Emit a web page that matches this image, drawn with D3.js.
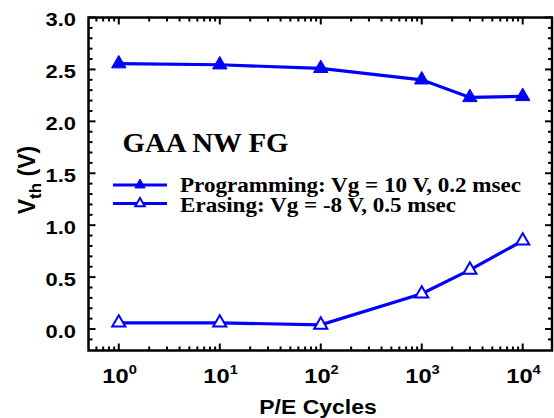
<!DOCTYPE html>
<html><head><meta charset="utf-8">
<script src="https://cdn.jsdelivr.net/npm/d3@7"></script>
<style>html,body{margin:0;padding:0;background:#fff;}</style>
</head><body>
<svg id="c" width="554" height="418"></svg>
<script>
const cycles = [1, 10, 100, 1000, 3000, 10000];
const programming = [2.555, 2.545, 2.51, 2.40, 2.23, 2.24];
const erasing = [0.06, 0.06, 0.04, 0.34, 0.57, 0.85];
const yTicks = [0.0, 0.5, 1.0, 1.5, 2.0, 2.5, 3.0];
const xTicks = [1, 10, 100, 1000, 10000];
const legendTitle = "GAA NW FG";
const legendLabels = ["Programming: Vg = 10 V, 0.2 msec", "Erasing: Vg = -8 V, 0.5 msec"];

const svg = d3.select("#c");
const L = 88.5, R = 552, T = 17.5, B = 350.5;
const x = d3.scaleLog().domain([Math.pow(10, -0.3), Math.pow(10, 4.29)]).range([L, R]);
const y = d3.scaleLinear().domain([-0.2, 3.0]).range([349.8, T]);
const blue = "#0000ff";
const sans = "'Liberation Sans', Arial, sans-serif";
const serif = "'Liberation Serif', 'Times New Roman', serif";

// minor ticks
const xMinor = [];
for (let d = -1; d <= 4; d++) for (let m = 2; m <= 9; m++) {
  const v = m * Math.pow(10, d);
  if (v > x.domain()[0] && v < x.domain()[1]) xMinor.push(v);
}
const yMinor = d3.range(-0.1, 3.0, 0.1).map(v => +v.toFixed(2)).filter(v => Math.abs(v * 2 - Math.round(v * 2)) > 1e-6);

const g = svg.append("g");
[[B, -1], [T, 1]].forEach(([yy, dir]) => {
  g.selectAll(null).data(xTicks).enter().append("line")
    .attr("x1", d => x(d)).attr("x2", d => x(d))
    .attr("y1", yy).attr("y2", yy + dir * 7)
    .attr("stroke", "#000").attr("stroke-width", 2);
  g.selectAll(null).data(xMinor).enter().append("line")
    .attr("x1", d => x(d)).attr("x2", d => x(d))
    .attr("y1", yy).attr("y2", yy + dir * 4)
    .attr("stroke", "#000").attr("stroke-width", 2);
});
[[L, 1], [R, -1]].forEach(([xx, dir]) => {
  g.selectAll(null).data(yTicks).enter().append("line")
    .attr("y1", d => y(d)).attr("y2", d => y(d))
    .attr("x1", xx).attr("x2", xx + dir * 7)
    .attr("stroke", "#000").attr("stroke-width", 2);
  g.selectAll(null).data(yMinor).enter().append("line")
    .attr("y1", d => y(d)).attr("y2", d => y(d))
    .attr("x1", xx).attr("x2", xx + dir * 4)
    .attr("stroke", "#000").attr("stroke-width", 2);
});
svg.append("rect").attr("x", L).attr("y", T).attr("width", R - L).attr("height", B - T)
  .attr("fill", "none").attr("stroke", "#000").attr("stroke-width", 2.5);

// y tick labels
svg.selectAll(null).data(yTicks).enter().append("text")
  .attr("x", 76).attr("y", d => y(d) + 2)
  .attr("text-anchor", "end").attr("dominant-baseline", "central")
  .attr("font-family", sans).attr("font-weight", "bold").attr("font-size", 19)
  .attr("transform", `translate(76,0) scale(1.15,1) translate(-76,0)`)
  .text(d => d.toFixed(1));

// x tick labels
const xl = svg.selectAll(null).data(xTicks).enter().append("text")
  .attr("x", d => x(d) - 16.5).attr("y", 383.5)
  .attr("font-family", sans).attr("font-weight", "bold").attr("font-size", 21)
  .attr("transform", d => `translate(${x(d) - 16.5},0) scale(1.13,1) translate(${-(x(d) - 16.5)},0)`);
xl.append("tspan").text("10");
xl.append("tspan").attr("dy", -9).attr("font-size", 13).text(d => Math.round(Math.log10(d)));

// x axis title
svg.append("text").attr("x", 318).attr("y", 414)
  .attr("text-anchor", "middle")
  .attr("font-family", sans).attr("font-weight", "bold").attr("font-size", 20.5)
  .attr("transform", "translate(318,0) scale(1.12,1) translate(-318,0)")
  .text("P/E Cycles");

// y axis title
const yt = svg.append("text").attr("transform", "translate(35,180) rotate(-90)")
  .attr("text-anchor", "middle")
  .attr("font-family", sans).attr("font-weight", "bold").attr("font-size", 23);
yt.append("tspan").text("V");
yt.append("tspan").attr("font-size", 17).attr("dy", 6).text("th");
yt.append("tspan").attr("dy", -6).text(" (V)");

// series
const line = d3.line().x(d => x(d[0])).y(d => y(d[1]));
const progData = cycles.map((c, i) => [c, programming[i]]);
const eraseData = cycles.map((c, i) => [c, erasing[i]]);
const tri = d3.symbol().type(d3.symbolTriangle);

[[progData, true], [eraseData, false]].forEach(([data, filled]) => {
  svg.append("path").datum(data).attr("d", line)
    .attr("fill", "none").attr("stroke", blue).attr("stroke-width", 3.2);
  svg.selectAll(null).data(data).enter().append("path")
    .attr("d", tri.size(filled ? 90 : 75)())
    .attr("transform", d => `translate(${x(d[0])},${y(d[1])})`)
    .attr("fill", filled ? blue : "#fff")
    .attr("stroke", blue).attr("stroke-width", filled ? 1 : 2);
});

// legend
svg.append("text").attr("x", 122.5).attr("y", 152.5)
  .attr("font-family", serif).attr("font-weight", "bold").attr("font-size", 28)
  .attr("transform", "translate(122.5,0) scale(1.03,1) translate(-122.5,0)")
  .text(legendTitle);
const ly = [185, 203.5];
const lb = [191.7, 212.3];
legendLabels.forEach((lab, i) => {
  svg.append("line").attr("x1", 113).attr("x2", 167).attr("y1", ly[i]).attr("y2", ly[i])
    .attr("stroke", blue).attr("stroke-width", 3.2);
  svg.append("path").attr("d", tri.size(i === 0 ? 45 : 40)())
    .attr("transform", `translate(140,${ly[i]})`)
    .attr("fill", i === 0 ? blue : "#fff").attr("stroke", blue).attr("stroke-width", i === 0 ? 1 : 2);
  svg.append("text").attr("x", 180).attr("y", lb[i])
    .attr("font-family", serif).attr("font-weight", "bold").attr("font-size", 21)
    .attr("transform", "translate(180,0) scale(1.1,1) translate(-180,0)")
    .text(lab);
});
</script>
</body></html>
